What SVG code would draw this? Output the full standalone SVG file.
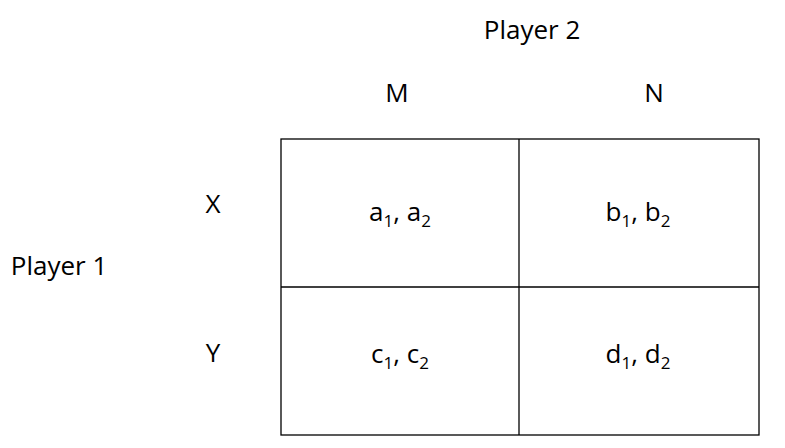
<svg xmlns="http://www.w3.org/2000/svg" width="785" height="448" viewBox="0 0 785 448">
<style>
text{font-family:"Open Sans","Liberation Sans",sans-serif;font-size:26px;fill:#000;text-anchor:middle}
.s{font-size:17px}
.g{fill:none;stroke:#000;stroke-width:1.3}
</style>
<rect width="785" height="448" fill="#fff"/>
<g id="grid">
<rect class="g" x="281" y="139" width="478" height="296"/>
<line class="g" x1="519" y1="139" x2="519" y2="435"/>
<line class="g" x1="281" y1="287" x2="759" y2="287"/>
</g>
<g id="labels">
<text x="532" y="39">Player 2</text>
<text x="397" y="102">M</text>
<text x="654" y="102">N</text>
<text x="213" y="213">X</text>
<text x="213" y="362">Y</text>
<text x="59" y="275">Player 1</text>
</g>
<g id="cells">
<text x="400" y="221">a<tspan class="s" dy="6">1</tspan><tspan dy="-6">, a</tspan><tspan class="s" dy="6">2</tspan></text>
<text x="638" y="221">b<tspan class="s" dy="6">1</tspan><tspan dy="-6">, b</tspan><tspan class="s" dy="6">2</tspan></text>
<text x="400" y="363">c<tspan class="s" dy="6">1</tspan><tspan dy="-6">, c</tspan><tspan class="s" dy="6">2</tspan></text>
<text x="638" y="363">d<tspan class="s" dy="6">1</tspan><tspan dy="-6">, d</tspan><tspan class="s" dy="6">2</tspan></text>
</g>
</svg>
